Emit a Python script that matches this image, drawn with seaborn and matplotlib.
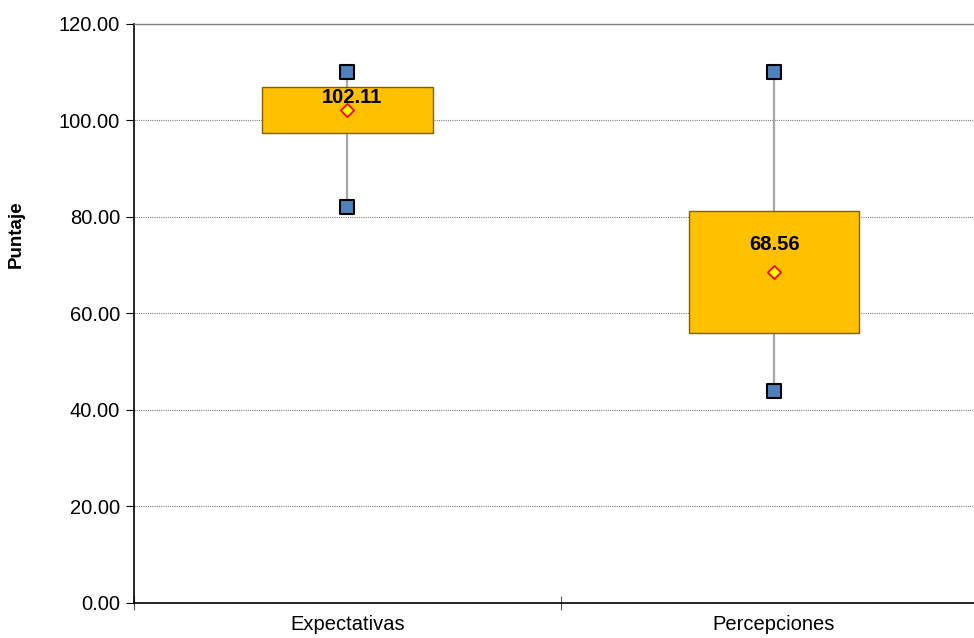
import numpy as np
import matplotlib
matplotlib.use("Agg")
import matplotlib.pyplot as plt
from matplotlib.ticker import FormatStrFormatter
import seaborn as sns

# datos del diagrama de caja
categorias = ["Expectativas", "Percepciones"]
minimos = [82.0, 44.0]
cuartil_1 = [97.5, 56.0]
cuartil_3 = [107.0, 81.3]
maximos = [110.0, 110.0]
medias = [102.11, 68.56]

sns.set_style("white", {"text.color": "black", "axes.labelcolor": "black",
                        "xtick.color": "black", "ytick.color": "black"})
plt.rcParams["font.family"] = ["Liberation Sans", "DejaVu Sans"]

fig = plt.figure(figsize=(9.74, 6.38), dpi=100)
ax = fig.add_axes([0.1376, 0.0549, 0.876, 0.9075])

pos = np.arange(len(categorias))
alturas = np.array(cuartil_3) - np.array(cuartil_1)

# bigotes (detras de la caja)
ax.vlines(pos, minimos, maximos, color="#a6a6a6", lw=1.6, zorder=1)

# cajas
sns.barplot(x=categorias, y=alturas, bottom=cuartil_1, width=0.4,
            color="#ffc000", saturation=1, edgecolor="#7f6000", linewidth=1.0,
            errorbar=None, ax=ax, zorder=2)

# minimos y maximos
sns.scatterplot(x=np.concatenate([pos, pos]), y=minimos + maximos, marker="s",
                s=110, color="#4f81bd", edgecolor="black", linewidth=1.5,
                ax=ax, zorder=3)

# media
sns.scatterplot(x=pos, y=medias, marker="D", s=45, color="#ffff00",
                edgecolor="#ff0000", linewidth=1.3, ax=ax, zorder=4)

desplaz = [(5, 13), (1, 28)]
for p, m, d in zip(pos, medias, desplaz):
    ax.annotate(f"{m:.2f}", (p, m), xytext=d, textcoords="offset pixels",
                ha="center", va="center", fontsize=14.5, fontweight="bold",
                color="black", zorder=5)

# ejes
ax.set_xlim(-0.5, len(categorias) - 0.5)
ax.set_ylim(0, 120)
ax.set_yticks(np.arange(0, 121, 20))
ax.yaxis.set_major_formatter(FormatStrFormatter("%.2f"))
ax.set_xticks(pos)
ax.set_xticklabels(categorias)
ax.set_xticks(np.arange(-0.5, len(categorias), 1), minor=True)
ax.tick_params(axis="x", which="major", length=0, labelsize=14.5, pad=9)
ax.tick_params(axis="x", which="minor", bottom=True, length=10,
               direction="inout", width=0.8, color="#555555")
ax.tick_params(axis="y", which="major", length=6, direction="out", width=0.8,
               labelsize=14.5, left=True, pad=4)

ax.set_ylabel("Puntaje", fontsize=13.5, fontweight="bold")
ax.yaxis.set_label_coords(-0.128, 0.637)
ax.set_xlabel("")

ax.grid(axis="y", color="#808080", linestyle=(0, (1, 1)), linewidth=0.8)
ax.set_axisbelow(True)
for s in ["left", "bottom"]:
    ax.spines[s].set_color("black")
    ax.spines[s].set_linewidth(1.2)
ax.spines["top"].set_color("#808080")
ax.spines["top"].set_linewidth(1.0)
ax.spines["right"].set_visible(False)

fig.savefig("out.png", dpi=100)
